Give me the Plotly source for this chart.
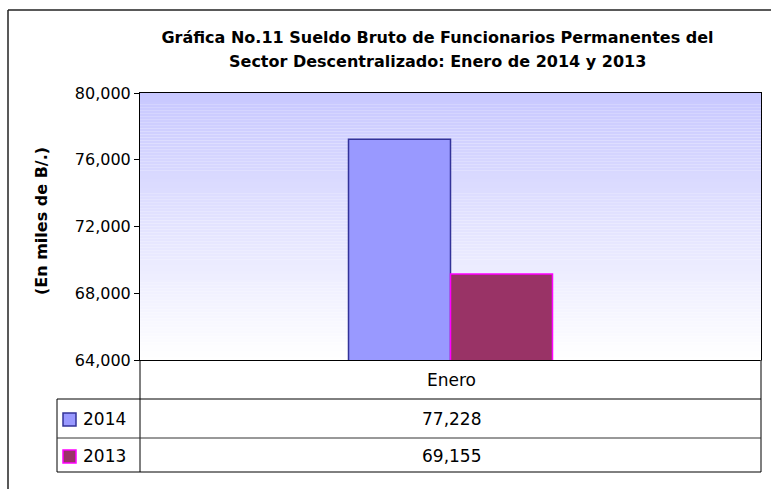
import plotly.graph_objects as go

categories = ["Enero"]
series_names = ["2014", "2013"]
values_2014 = [77228]
values_2013 = [69155]
title_line1 = "Gráfica No.11 Sueldo Bruto de Funcionarios Permanentes del"
title_line2 = "Sector Descentralizado: Enero de 2014 y 2013"
y_title = "(En miles de B/.)"
tick_vals = [64000, 68000, 72000, 76000, 80000]
tick_text = ["64,000", "68,000", "72,000", "76,000", "80,000"]

W, H = 771, 489
L, R, T, B = 140, 10, 93, 129
PW = W - L - R
PH = H - T - B

def px(x):
    return (x - L) / PW

def py(y):
    return (H - B - y) / PH

fills = ["#9999FF", "#993366"]
edges = ["#333399", "#FF00FF"]
all_vals = [values_2014, values_2013]

fig = go.Figure()
for name, vals, fc, ec in zip(series_names, all_vals, fills, edges):
    fig.add_trace(go.Bar(
        x=categories, y=vals, name=name,
        marker=dict(color=fc, line=dict(color=ec, width=1.5)),
        showlegend=False, hoverinfo="skip",
    ))

shapes = []
# gradient plot background
n = 90
top = (200, 200, 255)
bot = (255, 255, 255)
for i in range(n):
    t = i / (n - 1)
    c = tuple(int(round(top[k] + (bot[k] - top[k]) * t)) for k in range(3))
    shapes.append(dict(type="rect", xref="x domain", yref="y domain",
                       x0=0, x1=1, y0=1 - (i + 1) / n, y1=1 - i / n,
                       fillcolor="rgb(%d,%d,%d)" % c, line=dict(width=0),
                       layer="below"))

def hline(x0, x1, y, color="#000000", w=1):
    shapes.append(dict(type="line", xref="paper", yref="paper",
                       x0=px(x0), x1=px(x1), y0=py(y), y1=py(y),
                       line=dict(color=color, width=w)))

def vline(x, y0, y1, color="#000000", w=1):
    shapes.append(dict(type="line", xref="paper", yref="paper",
                       x0=px(x), x1=px(x), y0=py(y0), y1=py(y1),
                       line=dict(color=color, width=w)))

# outer chart frame
hline(8, 771, 10, "#222222", 1.5)
vline(8, 10, 489, "#222222", 1.5)

# data table grid
vline(140, 360, 472)
vline(761, 360, 472, "#555555", 1.5)
vline(57, 399, 472)
hline(57, 761, 399)
hline(57, 761, 438, "#333333", 1)
hline(57, 761, 472)

annotations = []
# title second line
annotations.append(dict(text="<b>%s</b>" % title_line2, xref="paper", yref="paper",
                        x=px(437), y=py(62), xanchor="center", yanchor="middle",
                        showarrow=False,
                        font=dict(family="DejaVu Sans", size=16, color="#000000")))
# y-axis title
annotations.append(dict(text="<b>%s</b>" % y_title, xref="paper", yref="paper",
                        x=px(41), y=py(221), xanchor="center", yanchor="middle",
                        textangle=-90, showarrow=False,
                        font=dict(family="DejaVu Sans", size=16, color="#000000")))
# table header
annotations.append(dict(text=categories[0], xref="paper", yref="paper",
                        x=px(451), y=py(380), xanchor="center", yanchor="middle",
                        showarrow=False,
                        font=dict(family="DejaVu Sans", size=17, color="#000000")))
row_y = [419, 456]
for name, vals, fc, ec, ry in zip(series_names, all_vals, fills, edges, row_y):
    shapes.append(dict(type="rect", xref="paper", yref="paper",
                       x0=px(63), x1=px(76), y0=py(ry + 7), y1=py(ry - 6),
                       fillcolor=fc, line=dict(color=ec, width=1.5)))
    annotations.append(dict(text=name, xref="paper", yref="paper",
                            x=px(81), y=py(ry), xanchor="left", yanchor="middle",
                            showarrow=False,
                            font=dict(family="DejaVu Sans", size=17, color="#000000")))
    annotations.append(dict(text="{:,}".format(vals[0]), xref="paper", yref="paper",
                            x=px(451), y=py(ry), xanchor="center", yanchor="middle",
                            showarrow=False,
                            font=dict(family="DejaVu Sans", size=17, color="#000000")))

fig.update_layout(
    width=W, height=H,
    margin=dict(l=L, r=R, t=T, b=B, autoexpand=False),
    paper_bgcolor="#FFFFFF",
    plot_bgcolor="rgba(0,0,0,0)",
    barmode="group", bargap=0.6715, bargroupgap=0,
    title=dict(text="<b>%s</b>" % title_line1, xref="paper", x=px(437.5),
               xanchor="center", yref="container", y=1 - 37 / H, yanchor="middle",
               font=dict(family="DejaVu Sans", size=16, color="#000000")),
    shapes=shapes,
    annotations=annotations,
    xaxis=dict(showticklabels=False, ticks="", showgrid=False, zeroline=False,
               showline=True, linecolor="#000000", linewidth=1, mirror=True,
               range=[-0.5, 0.5], fixedrange=True),
    yaxis=dict(range=[64000, 80000], tickvals=tick_vals, ticktext=tick_text,
               ticks="outside", ticklen=5, tickcolor="#000000",
               showgrid=False, zeroline=False,
               showline=True, linecolor="#000000", linewidth=1, mirror=True,
               tickfont=dict(family="DejaVu Sans", size=16, color="#000000"),
               fixedrange=True),
    font=dict(family="DejaVu Sans", color="#000000"),
)

fig.write_html("out.html", config={"displayModeBar": False},
               post_script="document.body.style.margin='0';document.body.style.overflow='hidden';")
